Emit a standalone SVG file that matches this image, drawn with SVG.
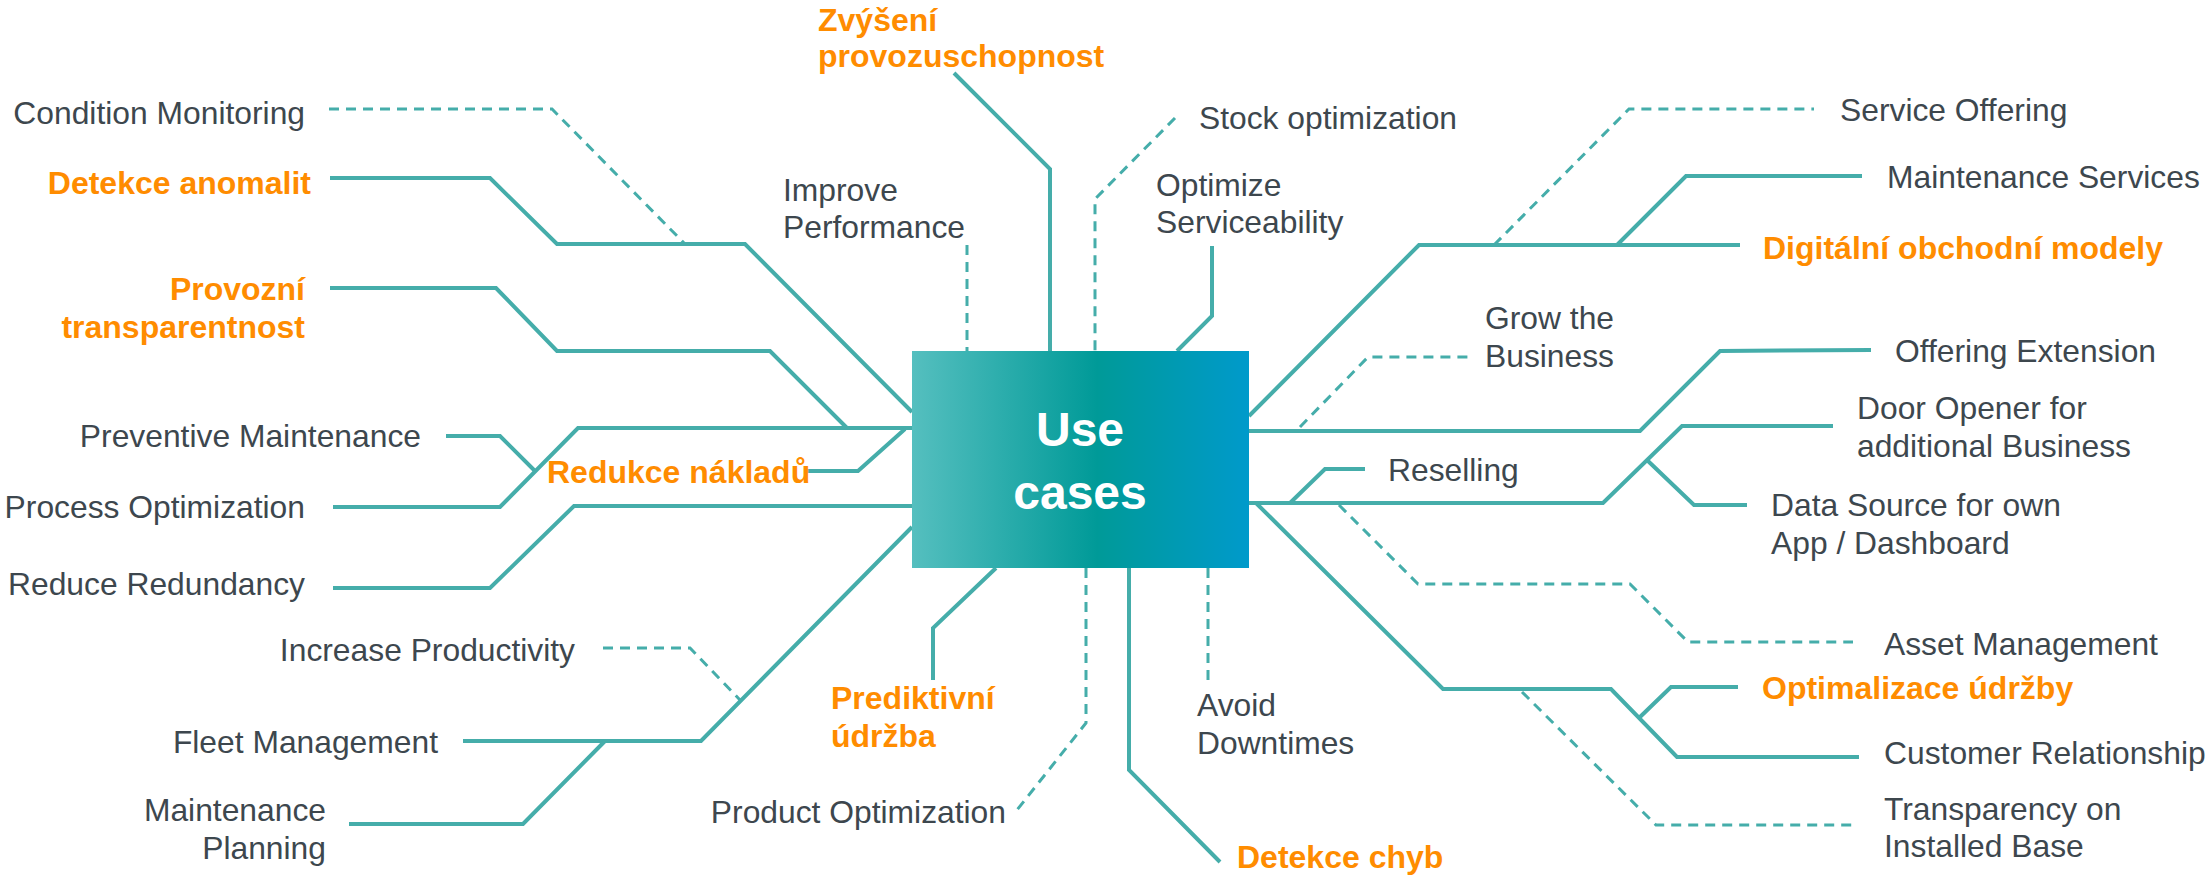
<svg xmlns="http://www.w3.org/2000/svg" width="2208" height="879" viewBox="0 0 2208 879">
<defs>
<linearGradient id="boxGrad" x1="0" y1="0" x2="1" y2="0">
<stop offset="0" stop-color="#55bfbf"/>
<stop offset="0.55" stop-color="#009a98"/>
<stop offset="1" stop-color="#009acb"/>
</linearGradient>
<style>
.s{fill:none;stroke:#45adaa;stroke-width:4;stroke-linejoin:miter}
.d{fill:none;stroke:#45adaa;stroke-width:3;stroke-dasharray:10 7}
.t{font-family:"Liberation Sans",Arial,sans-serif;font-size:31.8px;fill:#3d474e}
.o{font-family:"Liberation Sans",Arial,sans-serif;font-size:32px;font-weight:bold;fill:#ff8c00}
.e{text-anchor:end}
.c{font-family:"Liberation Sans",Arial,sans-serif;font-size:48px;font-weight:bold;fill:#ffffff;text-anchor:middle}
</style>
</defs>
<rect width="2208" height="879" fill="#ffffff"/>
<g id="connectors">
<polyline class="s" points="330,178 490,178 557,244 745,244 912,412"/>
<polyline class="s" points="330,288 496,288 557,351 770,351 847,428"/>
<polyline class="s" points="333,507 500,507 578,428 912,428"/>
<polyline class="s" points="446,436 500,436 535,471"/>
<polyline class="s" points="807,471 858,471 905,429"/>
<polyline class="s" points="333,588 490,588 574,506 912,506"/>
<polyline class="s" points="463,741 701,741 912,527"/>
<polyline class="s" points="349,824 523,824 605,741"/>
<polyline class="s" points="933,680 933,628 996,568"/>
<polyline class="s" points="1129,568 1129,770 1220,862"/>
<polyline class="s" points="954,73 1050,169 1050,351"/>
<polyline class="s" points="1212,246 1212,316 1177,351"/>
<polyline class="s" points="1249,416 1419,245 1740,245"/>
<polyline class="s" points="1617,245 1686,176 1862,176"/>
<polyline class="s" points="1249,431 1640,431 1720,351 1871,350"/>
<polyline class="s" points="1249,503 1603,503 1682,426 1833,426"/>
<polyline class="s" points="1648,461 1694,505 1747,505"/>
<polyline class="s" points="1290,503 1325,469 1365,469"/>
<polyline class="s" points="1256,503 1443,689 1611,689 1677,757 1859,757"/>
<polyline class="s" points="1640,717 1671,687 1738,687"/>
<polyline class="d" points="329,109 552,109 684,243"/>
<polyline class="d" points="603,648 690,648 740,700"/>
<polyline class="d" points="1086,568 1086,723 1017,810"/>
<polyline class="d" points="1208,568 1208,680"/>
<polyline class="d" points="967,245 967,351"/>
<polyline class="d" points="1175,118 1095,199 1095,351"/>
<polyline class="d" points="1494,245 1629,109 1814,109"/>
<polyline class="d" points="1300,427 1368,357 1470,357"/>
<polyline class="d" points="1339,505 1418,584 1630,584 1688,642 1853,642"/>
<polyline class="d" points="1522,692 1656,825 1858,825"/>
</g>
<g id="center">
<rect x="912" y="351" width="337" height="217" fill="url(#boxGrad)"/>
<text class="c" x="1080" y="446">Use</text>
<text class="c" x="1080" y="509">cases</text>
</g>
<g id="condition-monitoring"><text class="t e" x="305" y="124">Condition Monitoring</text></g>
<g id="detekce-anomalit"><text class="o e" x="311" y="194">Detekce anomalit</text></g>
<g id="provozni-transparentnost"><text class="o e" x="305" y="300">Provozní</text><text class="o e" x="305" y="338">transparentnost</text></g>
<g id="preventive-maintenance"><text class="t e" x="421" y="447">Preventive Maintenance</text></g>
<g id="process-optimization"><text class="t e" x="305" y="518">Process Optimization</text></g>
<g id="redukce-nakladu"><text class="o" x="547" y="483">Redukce nákladů</text></g>
<g id="reduce-redundancy"><text class="t e" x="305" y="595">Reduce Redundancy</text></g>
<g id="increase-productivity"><text class="t e" x="575" y="661">Increase Productivity</text></g>
<g id="fleet-management"><text class="t e" x="438" y="753">Fleet Management</text></g>
<g id="maintenance-planning"><text class="t e" x="326" y="821">Maintenance</text><text class="t e" x="326" y="859">Planning</text></g>
<g id="product-optimization"><text class="t e" x="1006" y="823">Product Optimization</text></g>
<g id="prediktivni-udrzba"><text class="o" x="831" y="709">Prediktivní</text><text class="o" x="831" y="747">údržba</text></g>
<g id="detekce-chyb"><text class="o" x="1237" y="868">Detekce chyb</text></g>
<g id="avoid-downtimes"><text class="t" x="1197" y="716">Avoid</text><text class="t" x="1197" y="754">Downtimes</text></g>
<g id="improve-performance"><text class="t" x="783" y="201">Improve</text><text class="t" x="783" y="238">Performance</text></g>
<g id="zvyseni-provozuschopnost"><text class="o" x="818" y="31">Zvýšení</text><text class="o" x="818" y="67">provozuschopnost</text></g>
<g id="stock-optimization"><text class="t" x="1199" y="129">Stock optimization</text></g>
<g id="optimize-serviceability"><text class="t" x="1156" y="196">Optimize</text><text class="t" x="1156" y="233">Serviceability</text></g>
<g id="service-offering"><text class="t" x="1840" y="121">Service Offering</text></g>
<g id="maintenance-services"><text class="t" x="1887" y="188">Maintenance Services</text></g>
<g id="digitalni-obchodni-modely"><text class="o" x="1763" y="259">Digitální obchodní modely</text></g>
<g id="grow-the-business"><text class="t" x="1485" y="329">Grow the</text><text class="t" x="1485" y="367">Business</text></g>
<g id="offering-extension"><text class="t" x="1895" y="362">Offering Extension</text></g>
<g id="door-opener"><text class="t" x="1857" y="419">Door Opener for</text><text class="t" x="1857" y="457">additional Business</text></g>
<g id="reselling"><text class="t" x="1388" y="481">Reselling</text></g>
<g id="data-source"><text class="t" x="1771" y="516">Data Source for own</text><text class="t" x="1771" y="554">App / Dashboard</text></g>
<g id="asset-management"><text class="t" x="1884" y="655">Asset Management</text></g>
<g id="optimalizace-udrzby"><text class="o" x="1762" y="699">Optimalizace údržby</text></g>
<g id="customer-relationship"><text class="t" x="1884" y="764">Customer Relationship</text></g>
<g id="transparency-installed-base"><text class="t" x="1884" y="820">Transparency on</text><text class="t" x="1884" y="857">Installed Base</text></g>
</svg>
